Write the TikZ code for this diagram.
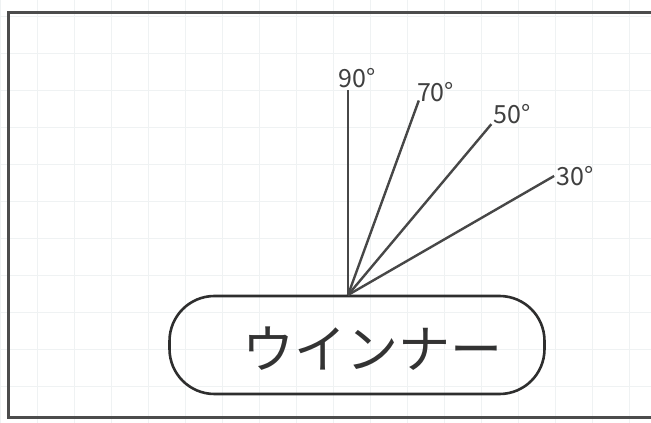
\documentclass[tikz,border=0pt]{standalone}
\usepackage{fontspec}
\setmainfont{Noto Sans CJK JP}
\usetikzlibrary{positioning,calc}

\tikzset{
  ray/.style={line width=2.4pt,black!72},
  deg/.style={font=\fontsize{25}{25}\selectfont,text=black!75,inner sep=1pt},
  wiener/.style={draw,line width=2.6pt,black!82,rounded corners=45pt,
    minimum width=375pt,minimum height=98pt,inner sep=0pt}
}

\begin{document}
\begin{tikzpicture}[x=1pt,y=1pt]
      \useasboundingbox (0,0) rectangle (651,423);
      \fill[white] (0,0) rectangle (651,423);
      % faint paper grid
      \draw[cyan!25!black!7,line width=0.6pt,step=37] (0,0) grid (651,423);
      % frame, open on the right
      \draw[black!70,line width=3pt] (651,410) -- (8,410) -- (8,5) -- (651,5);
      \node[wiener] (sausage) at (357,78) {};
      \node[font=\fontsize{52}{52}\selectfont,text=black!80] (word) at (372,74) {ウインナー};
      \coordinate (o) at (348,128);
      \draw[ray] (o) -- ++(90:205) node[deg,anchor=south,xshift=9pt] (l90) {90°};
      \draw[ray] (o) -- ++(70:207) node[deg,anchor=south west,xshift=-4pt,yshift=-4pt] (l70) {70°};
      \draw[ray] (o) -- ++(50:223) node[deg,anchor=south west,yshift=-2pt] (l50) {50°};
      \draw[ray] (o) -- ++(30:238) node[deg,anchor=west] (l30) {30°};
    \end{tikzpicture}
\end{document}
